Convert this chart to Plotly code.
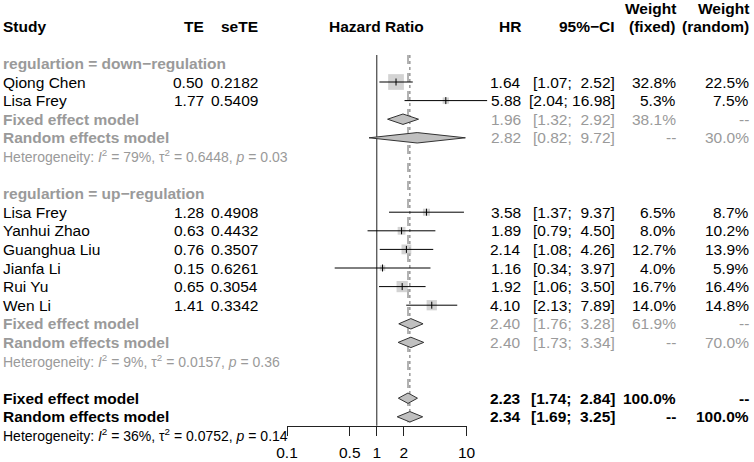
""" Forest plot of hazard ratios by regulation subgroup """
import math

import plotly.graph_objects as go


# ---- data -------------------------------------------------------------
down_studies = ['Qiong Chen', 'Lisa Frey']
down_te = [0.50, 1.77]
down_sete = [0.2182, 0.5409]
down_hr = [1.64, 5.88]
down_lo = [1.07, 2.04]
down_hi = [2.52, 16.98]
down_wfixed = [32.8, 5.3]
down_wrandom = [22.5, 7.5]

up_studies = ['Lisa Frey', 'Yanhui Zhao', 'Guanghua Liu', 'Jianfa Li', 'Rui Yu', 'Wen Li']
up_te = [1.28, 0.63, 0.76, 0.15, 0.65, 1.41]
up_sete = [0.4908, 0.4432, 0.3507, 0.6261, 0.3054, 0.3342]
up_hr = [3.58, 1.89, 2.14, 1.16, 1.92, 4.10]
up_lo = [1.37, 0.79, 1.08, 0.34, 1.06, 2.13]
up_hi = [9.37, 4.50, 4.26, 3.97, 3.50, 7.89]
up_wfixed = [6.5, 8.0, 12.7, 4.0, 16.7, 14.0]
up_wrandom = [8.7, 10.2, 13.9, 5.9, 16.4, 14.8]

# summaries: (hr, lower, upper, weight fixed, weight random)
down_fixed = (1.96, 1.32, 2.92, '38.1%', '--')
down_random = (2.82, 0.82, 9.72, '--', '30.0%')
down_het = ('79%', '0.6448', '0.03')
up_fixed = (2.40, 1.76, 3.28, '61.9%', '--')
up_random = (2.40, 1.73, 3.34, '--', '70.0%')
up_het = ('9%', '0.0157', '0.36')
all_fixed = (2.23, 1.74, 2.84, '100.0%', '--')
all_random = (2.34, 1.69, 3.25, '--', '100.0%')
all_het = ('36%', '0.0752', '0.14')

tick_vals = [0.1, 0.5, 1, 2, 10]
tick_text = ['0.1', '0.5', '1', '2', '10']

# ---- geometry (pixels of a 754 x 462 page) ----------------------------
W, H = 754, 462
ROW0, ROWH = 63.4, 18.6          # pixel of first row, row height
AX_L, AX_R = 287.0, 466.5        # pixels of 0.1 and 10
AX_Y = 425.7
FONT = 'Liberation Sans, Arial, Helvetica, sans-serif'
GREY = '#9a9a9a'
BOX = '#c0c0c0'

px_dec = (AX_R - AX_L) / 2.0
x_range = [-1 - AX_L / px_dec, 1 + (W - AX_R) / px_dec]
y_range = [(H - ROW0) / ROWH, -ROW0 / ROWH]


def row_of(pixel):
    return (pixel - ROW0) / ROWH


def fmt_ci(lo, hi):
    hi_s = f'{hi:.2f}'.rjust(5, '\u00a0')
    return f'[{lo:.2f};\u00a0{hi_s}]'


fig = go.Figure()
notes = []


def text(x, r, s, color='black', bold=False, anchor='right', size=15.5):
    if bold:
        s = f'<b>{s}</b>'
    notes.append(dict(x=x / W, y=r, xref='paper', yref='y', text=s,
                      showarrow=False, xanchor=anchor, yanchor='middle',
                      borderpad=0,
                      font=dict(family=FONT, size=size, color=color)))


def value_cols(r, hr, lo, hi, wf, wr, color='black', bold=False):
    text(522, r, f'{hr:.2f}', color, bold)
    text(616, r, fmt_ci(lo, hi), color, bold)
    text(677, r, wf, color, bold)
    text(750, r, wr, color, bold)


def add_studies(first_row, names, te, sete, hr, lo, hi, wf, wr):
    rows = [first_row + i for i in range(len(names))]
    fig.add_trace(go.Scatter(
        x=hr, y=rows, mode='markers',
        marker=dict(symbol='square', color=BOX,
                    size=[2.75 * math.sqrt(w) for w in wf], line=dict(width=0))))
    xs, ys = [], []
    for r, a, b in zip(rows, lo, hi):
        xs += [a, b, None]
        ys += [r, r, None]
    fig.add_trace(go.Scatter(x=xs, y=ys, mode='lines',
                             line=dict(color='black', width=1)))
    fig.add_trace(go.Scatter(
        x=hr, y=rows, mode='markers',
        marker=dict(symbol='line-ns', size=5, line=dict(color='black', width=1))))
    for i, r in enumerate(rows):
        text(2, r, names[i], anchor='left')
        text(205, r, f'{te[i]:.2f}')
        text(259, r, f'{sete[i]:.4f}')
        value_cols(r, hr[i], lo[i], hi[i], f'{wf[i]:.1f}%', f'{wr[i]:.1f}%')


def add_summary(r, label, summ, color, bold_values):
    hr, lo, hi, wf, wr = summ
    h = 0.28
    fig.add_trace(go.Scatter(
        x=[lo, hr, hi, hr, lo], y=[r, r - h, r, r + h, r], mode='lines',
        fill='toself', fillcolor=BOX, line=dict(color='#333333', width=1)))
    text(2, r, label, color, True, anchor='left')
    value_cols(r, hr, lo, hi, wf, wr, color, bold_values)


def add_het(r, het, color):
    i2, tau2, p = het
    s = (f'Heterogeneity: <i>I</i><sup>2</sup> = {i2}, '
         f'\u03c4<sup>2</sup> = {tau2}, <i>p</i> = {p}')
    text(2, r, s, color, anchor='left', size=14)


# reference lines
fig.add_trace(go.Scatter(x=[1, 1], y=[row_of(55), row_of(AX_Y)], mode='lines',
                         line=dict(color='#444444', width=1.2)))
fig.add_trace(go.Scatter(x=[all_fixed[0]] * 2, y=[row_of(55), 19.3], mode='lines',
                         line=dict(color='#666666', width=1, dash='dash')))
fig.add_trace(go.Scatter(x=[all_random[0]] * 2, y=[row_of(55), 19.3], mode='lines',
                         line=dict(color='#666666', width=1, dash='dot')))

# headers
text(2, -2, 'Study', bold=True, anchor='left')
text(205, -2, 'TE', bold=True)
text(259, -2, 'seTE', bold=True)
text((AX_L + AX_R) / 2, -2, 'Hazard Ratio', bold=True, anchor='center')
text(522, -2, 'HR', bold=True)
text(616, -2, '95%\u2212CI', bold=True)
text(677, -2.95, 'Weight', bold=True)
text(677, -2, '(fixed)', bold=True)
text(750, -2.95, 'Weight', bold=True)
text(750, -2, '(random)', bold=True)

# subgroup: down-regulation
text(2, 0, 'regulartion = down\u2212regulation', GREY, True, anchor='left')
add_studies(1, down_studies, down_te, down_sete, down_hr, down_lo, down_hi,
            down_wfixed, down_wrandom)
add_summary(3, 'Fixed effect model', down_fixed, GREY, False)
add_summary(4, 'Random effects model', down_random, GREY, False)
add_het(5, down_het, GREY)

# subgroup: up-regulation
text(2, 7, 'regulartion = up\u2212regulation', GREY, True, anchor='left')
add_studies(8, up_studies, up_te, up_sete, up_hr, up_lo, up_hi,
            up_wfixed, up_wrandom)
add_summary(14, 'Fixed effect model', up_fixed, GREY, False)
add_summary(15, 'Random effects model', up_random, GREY, False)
add_het(16, up_het, GREY)

# overall
add_summary(18, 'Fixed effect model', all_fixed, 'black', True)
add_summary(19, 'Random effects model', all_random, 'black', True)
add_het(20, all_het, 'black')

# invisible trace to carry the visible log axis
fig.add_trace(go.Scatter(x=[1], y=[-50], xaxis='x2', yaxis='y', mode='markers',
                         marker=dict(opacity=0)))

fig.update_traces(showlegend=False, hoverinfo='skip')
fig.update_layout(
    width=W, height=H, autosize=False,
    margin=dict(l=0, r=0, t=0, b=0, pad=0, autoexpand=False),
    paper_bgcolor='white', plot_bgcolor='rgba(0,0,0,0)',
    showlegend=False,
    annotations=notes,
    xaxis=dict(type='log', range=x_range, domain=[0, 1], visible=False),
    yaxis=dict(range=y_range, domain=[0, 1], visible=False),
    xaxis2=dict(type='log', range=[-1, 1], domain=[AX_L / W, AX_R / W],
                anchor='free', position=1 - AX_Y / H,
                showline=True, linecolor='#222222', linewidth=1,
                ticks='outside', ticklen=9, tickcolor='#222222', tickwidth=1,
                tickvals=tick_vals, ticktext=tick_text, ticklabelstandoff=4,
                tickfont=dict(family=FONT, size=15.5, color='black'),
                showgrid=False, zeroline=False),
)

fig.write_html('out.html', config={'displayModeBar': False},
               post_script="document.body.style.margin='0';")
